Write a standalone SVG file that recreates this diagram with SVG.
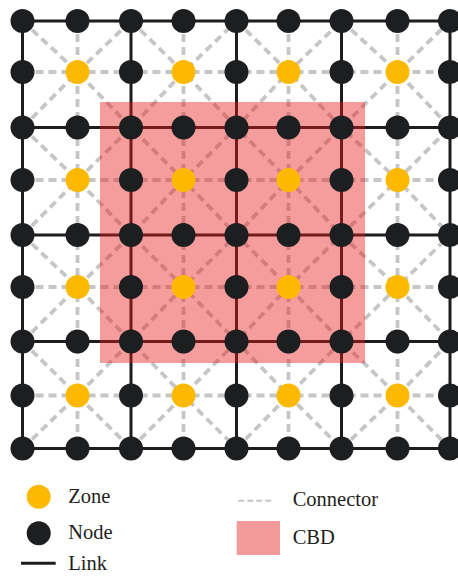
<svg xmlns="http://www.w3.org/2000/svg" width="458" height="578" viewBox="0 0 458 578">
<style>
.node{fill:#1d1e20}
.zone{fill:#fdb900}
.link{stroke:#1d1d1f;stroke-width:3;fill:none}
.conn{stroke:#c6c6c6;stroke-width:3.8;stroke-dasharray:8 5;fill:none}
.cbd{fill:rgb(232,28,28);fill-opacity:0.43}
.lbl{font-size:20.5px;fill:#231f20}
</style>
<rect width="458" height="578" fill="#ffffff"/>
<g id="connectors">
<g id="dashed-orthogonal">
<line class="conn" x1="22.5" y1="72" x2="450" y2="72"/>
<line class="conn" x1="22.5" y1="180" x2="450" y2="180"/>
<line class="conn" x1="22.5" y1="287" x2="450" y2="287"/>
<line class="conn" x1="22.5" y1="395.5" x2="450" y2="395.5"/>
<line class="conn" x1="77.5" y1="21" x2="77.5" y2="448.5"/>
<line class="conn" x1="183.5" y1="21" x2="183.5" y2="448.5"/>
<line class="conn" x1="288.5" y1="21" x2="288.5" y2="448.5"/>
<line class="conn" x1="397.5" y1="21" x2="397.5" y2="448.5"/>
</g>
<g id="dashed-diagonal">
<polyline class="conn" points="22.5,21 77.5,72 131,127.5 183.5,180 236.5,235 288.5,287 341.5,341.5 397.5,395.5 450,448.5"/>
<polyline class="conn" points="131,21 183.5,72 236.5,127.5 288.5,180 341.5,235 397.5,287 450,341.5"/>
<polyline class="conn" points="236.5,21 288.5,72 341.5,127.5 397.5,180 450,235"/>
<polyline class="conn" points="341.5,21 397.5,72 450,127.5"/>
<polyline class="conn" points="22.5,127.5 77.5,180 131,235 183.5,287 236.5,341.5 288.5,395.5 341.5,448.5"/>
<polyline class="conn" points="22.5,235 77.5,287 131,341.5 183.5,395.5 236.5,448.5"/>
<polyline class="conn" points="22.5,341.5 77.5,395.5 131,448.5"/>
<polyline class="conn" points="22.5,127.5 77.5,72 131,21"/>
<polyline class="conn" points="22.5,235 77.5,180 131,127.5 183.5,72 236.5,21"/>
<polyline class="conn" points="22.5,341.5 77.5,287 131,235 183.5,180 236.5,127.5 288.5,72 341.5,21"/>
<polyline class="conn" points="22.5,448.5 77.5,395.5 131,341.5 183.5,287 236.5,235 288.5,180 341.5,127.5 397.5,72 450,21"/>
<polyline class="conn" points="131,448.5 183.5,395.5 236.5,341.5 288.5,287 341.5,235 397.5,180 450,127.5"/>
<polyline class="conn" points="236.5,448.5 288.5,395.5 341.5,341.5 397.5,287 450,235"/>
<polyline class="conn" points="341.5,448.5 397.5,395.5 450,341.5"/>
</g>
<g id="links">
<line class="link" x1="22.5" y1="21" x2="450" y2="21"/>
<line class="link" x1="22.5" y1="127.5" x2="450" y2="127.5"/>
<line class="link" x1="22.5" y1="235" x2="450" y2="235"/>
<line class="link" x1="22.5" y1="341.5" x2="450" y2="341.5"/>
<line class="link" x1="22.5" y1="448.5" x2="450" y2="448.5"/>
<line class="link" x1="22.5" y1="21" x2="22.5" y2="448.5"/>
<line class="link" x1="131" y1="21" x2="131" y2="448.5"/>
<line class="link" x1="236.5" y1="21" x2="236.5" y2="448.5"/>
<line class="link" x1="341.5" y1="21" x2="341.5" y2="448.5"/>
<line class="link" x1="450" y1="21" x2="450" y2="448.5"/>
</g>
</g>
<rect id="cbd" class="cbd" x="100" y="102" width="265" height="261"/>
<g id="nodes">
<g id="n0_0"><circle class="node" cx="22.5" cy="21" r="12"/></g>
<g id="n1_0"><circle class="node" cx="77.5" cy="21" r="12"/></g>
<g id="n2_0"><circle class="node" cx="131" cy="21" r="12"/></g>
<g id="n3_0"><circle class="node" cx="183.5" cy="21" r="12"/></g>
<g id="n4_0"><circle class="node" cx="236.5" cy="21" r="12"/></g>
<g id="n5_0"><circle class="node" cx="288.5" cy="21" r="12"/></g>
<g id="n6_0"><circle class="node" cx="341.5" cy="21" r="12"/></g>
<g id="n7_0"><circle class="node" cx="397.5" cy="21" r="12"/></g>
<g id="n8_0"><circle class="node" cx="450" cy="21" r="12"/></g>

<g id="n0_1"><circle class="node" cx="22.5" cy="72" r="12"/></g>
<g id="z1_1"><circle class="zone" cx="77.5" cy="72" r="12"/></g>
<g id="n2_1"><circle class="node" cx="131" cy="72" r="12"/></g>
<g id="z3_1"><circle class="zone" cx="183.5" cy="72" r="12"/></g>
<g id="n4_1"><circle class="node" cx="236.5" cy="72" r="12"/></g>
<g id="z5_1"><circle class="zone" cx="288.5" cy="72" r="12"/></g>
<g id="n6_1"><circle class="node" cx="341.5" cy="72" r="12"/></g>
<g id="z7_1"><circle class="zone" cx="397.5" cy="72" r="12"/></g>
<g id="n8_1"><circle class="node" cx="450" cy="72" r="12"/></g>

<g id="n0_2"><circle class="node" cx="22.5" cy="127.5" r="12"/></g>
<g id="n1_2"><circle class="node" cx="77.5" cy="127.5" r="12"/></g>
<g id="n2_2"><circle class="node" cx="131" cy="127.5" r="12"/></g>
<g id="n3_2"><circle class="node" cx="183.5" cy="127.5" r="12"/></g>
<g id="n4_2"><circle class="node" cx="236.5" cy="127.5" r="12"/></g>
<g id="n5_2"><circle class="node" cx="288.5" cy="127.5" r="12"/></g>
<g id="n6_2"><circle class="node" cx="341.5" cy="127.5" r="12"/></g>
<g id="n7_2"><circle class="node" cx="397.5" cy="127.5" r="12"/></g>
<g id="n8_2"><circle class="node" cx="450" cy="127.5" r="12"/></g>

<g id="n0_3"><circle class="node" cx="22.5" cy="180" r="12"/></g>
<g id="z1_3"><circle class="zone" cx="77.5" cy="180" r="12"/></g>
<g id="n2_3"><circle class="node" cx="131" cy="180" r="12"/></g>
<g id="z3_3"><circle class="zone" cx="183.5" cy="180" r="12"/></g>
<g id="n4_3"><circle class="node" cx="236.5" cy="180" r="12"/></g>
<g id="z5_3"><circle class="zone" cx="288.5" cy="180" r="12"/></g>
<g id="n6_3"><circle class="node" cx="341.5" cy="180" r="12"/></g>
<g id="z7_3"><circle class="zone" cx="397.5" cy="180" r="12"/></g>
<g id="n8_3"><circle class="node" cx="450" cy="180" r="12"/></g>

<g id="n0_4"><circle class="node" cx="22.5" cy="235" r="12"/></g>
<g id="n1_4"><circle class="node" cx="77.5" cy="235" r="12"/></g>
<g id="n2_4"><circle class="node" cx="131" cy="235" r="12"/></g>
<g id="n3_4"><circle class="node" cx="183.5" cy="235" r="12"/></g>
<g id="n4_4"><circle class="node" cx="236.5" cy="235" r="12"/></g>
<g id="n5_4"><circle class="node" cx="288.5" cy="235" r="12"/></g>
<g id="n6_4"><circle class="node" cx="341.5" cy="235" r="12"/></g>
<g id="n7_4"><circle class="node" cx="397.5" cy="235" r="12"/></g>
<g id="n8_4"><circle class="node" cx="450" cy="235" r="12"/></g>

<g id="n0_5"><circle class="node" cx="22.5" cy="287" r="12"/></g>
<g id="z1_5"><circle class="zone" cx="77.5" cy="287" r="12"/></g>
<g id="n2_5"><circle class="node" cx="131" cy="287" r="12"/></g>
<g id="z3_5"><circle class="zone" cx="183.5" cy="287" r="12"/></g>
<g id="n4_5"><circle class="node" cx="236.5" cy="287" r="12"/></g>
<g id="z5_5"><circle class="zone" cx="288.5" cy="287" r="12"/></g>
<g id="n6_5"><circle class="node" cx="341.5" cy="287" r="12"/></g>
<g id="z7_5"><circle class="zone" cx="397.5" cy="287" r="12"/></g>
<g id="n8_5"><circle class="node" cx="450" cy="287" r="12"/></g>

<g id="n0_6"><circle class="node" cx="22.5" cy="341.5" r="12"/></g>
<g id="n1_6"><circle class="node" cx="77.5" cy="341.5" r="12"/></g>
<g id="n2_6"><circle class="node" cx="131" cy="341.5" r="12"/></g>
<g id="n3_6"><circle class="node" cx="183.5" cy="341.5" r="12"/></g>
<g id="n4_6"><circle class="node" cx="236.5" cy="341.5" r="12"/></g>
<g id="n5_6"><circle class="node" cx="288.5" cy="341.5" r="12"/></g>
<g id="n6_6"><circle class="node" cx="341.5" cy="341.5" r="12"/></g>
<g id="n7_6"><circle class="node" cx="397.5" cy="341.5" r="12"/></g>
<g id="n8_6"><circle class="node" cx="450" cy="341.5" r="12"/></g>

<g id="n0_7"><circle class="node" cx="22.5" cy="395.5" r="12"/></g>
<g id="z1_7"><circle class="zone" cx="77.5" cy="395.5" r="12"/></g>
<g id="n2_7"><circle class="node" cx="131" cy="395.5" r="12"/></g>
<g id="z3_7"><circle class="zone" cx="183.5" cy="395.5" r="12"/></g>
<g id="n4_7"><circle class="node" cx="236.5" cy="395.5" r="12"/></g>
<g id="z5_7"><circle class="zone" cx="288.5" cy="395.5" r="12"/></g>
<g id="n6_7"><circle class="node" cx="341.5" cy="395.5" r="12"/></g>
<g id="z7_7"><circle class="zone" cx="397.5" cy="395.5" r="12"/></g>
<g id="n8_7"><circle class="node" cx="450" cy="395.5" r="12"/></g>

<g id="n0_8"><circle class="node" cx="22.5" cy="448.5" r="12"/></g>
<g id="n1_8"><circle class="node" cx="77.5" cy="448.5" r="12"/></g>
<g id="n2_8"><circle class="node" cx="131" cy="448.5" r="12"/></g>
<g id="n3_8"><circle class="node" cx="183.5" cy="448.5" r="12"/></g>
<g id="n4_8"><circle class="node" cx="236.5" cy="448.5" r="12"/></g>
<g id="n5_8"><circle class="node" cx="288.5" cy="448.5" r="12"/></g>
<g id="n6_8"><circle class="node" cx="341.5" cy="448.5" r="12"/></g>
<g id="n7_8"><circle class="node" cx="397.5" cy="448.5" r="12"/></g>
<g id="n8_8"><circle class="node" cx="450" cy="448.5" r="12"/></g>
</g>
<g id="legend" font-family="'Liberation Serif', 'DejaVu Serif', serif">
<circle class="zone" cx="38.7" cy="496.7" r="12"/>
<text class="lbl" x="68.3" y="503.3">Zone</text>
<circle class="node" cx="38.7" cy="533.3" r="12"/>
<text class="lbl" x="68.3" y="539.3">Node</text>
<line class="link" x1="21" y1="563.3" x2="55.7" y2="563.3"/>
<text class="lbl" x="68.3" y="570">Link</text>
<line x1="238.3" y1="500.7" x2="273.3" y2="500.7" stroke="#c6c6c6" stroke-width="2" stroke-dasharray="6 3"/>
<text class="lbl" x="292.7" y="506">Connector</text>
<rect x="236.7" y="521" width="43.3" height="34" fill="#f39a9a"/>
<text class="lbl" x="292.7" y="544">CBD</text>
</g>
</svg>
